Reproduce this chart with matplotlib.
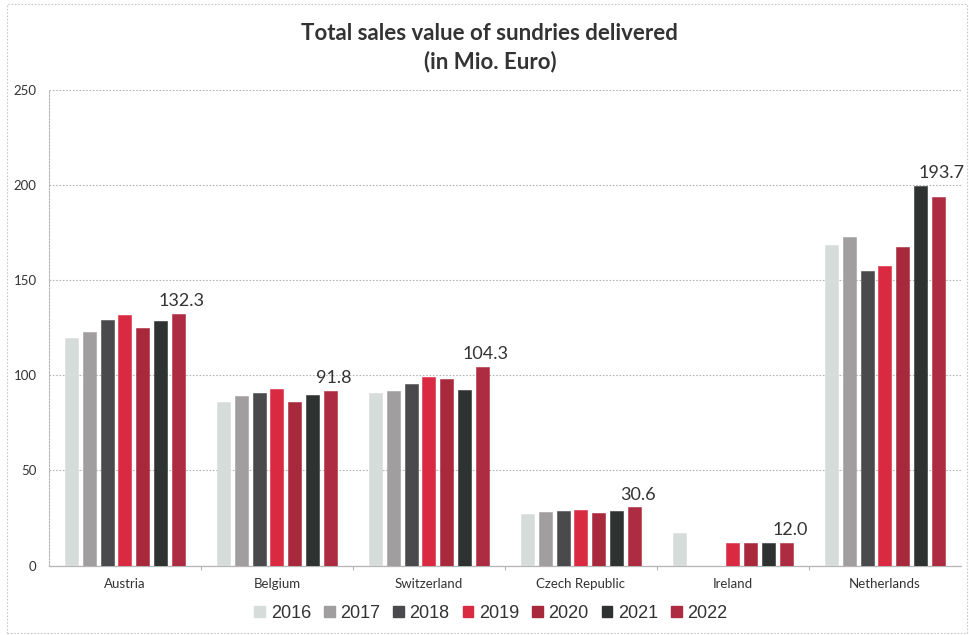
import numpy as np
import matplotlib
matplotlib.use("Agg")
import matplotlib.pyplot as plt
from matplotlib.patches import Rectangle, Patch

# Data (Mio. Euro)
countries = ["Austria", "Belgium", "Switzerland", "Czech Republic", "Ireland", "Netherlands"]
years = ["2016", "2017", "2018", "2019", "2020", "2021", "2022"]

v2016 = [119.7, 85.9, 90.7, 26.9, 16.9, 168.5]
v2017 = [122.9, 89.0, 91.9, 28.0, np.nan, 172.7]
v2018 = [128.8, 90.8, 95.2, 28.5, np.nan, 154.7]
v2019 = [131.6, 92.6, 98.9, 29.0, 12.0, 157.3]
v2020 = [125.0, 86.1, 98.2, 27.8, 12.0, 167.5]
v2021 = [128.5, 89.4, 92.4, 28.5, 12.0, 199.5]
v2022 = [132.3, 91.8, 104.3, 30.6, 12.0, 193.7]

series = [v2016, v2017, v2018, v2019, v2020, v2021, v2022]
colors = ["#d6dcda", "#a19e9f", "#4a4a4d", "#d92a42", "#a8283c", "#2e3231", "#ad2c41"]

TEXT = "#333333"
GRID = "#b5b5b5"

fig = plt.figure(figsize=(9.7, 6.35), dpi=100)
ax = fig.add_axes([0.0505, 0.1094, 0.9402, 0.7496])

x = np.arange(len(countries))
pitch = 0.1178
width = 0.0855
for i, (vals, col) in enumerate(zip(series, colors)):
    offs = (i - 3) * pitch
    ax.bar(x + offs, np.array(vals, dtype=float), width=width, color=col,
           edgecolor=col, linewidth=0.4, zorder=3, label=years[i])

# value labels for the latest year, lifted clear of a taller neighbouring bar
for xi, v, prev in zip(x, v2022, v2021):
    y = max(v, prev) + 2.5
    ax.text(xi + 3 * pitch + 0.02, y, f"{v:.1f}", ha="center", va="bottom",
            fontsize=13, color=TEXT, family="Lato", zorder=4)

ax.set_xlim(-0.5, len(countries) - 0.5)
ax.set_ylim(0, 250)
ax.set_yticks(np.arange(0, 251, 50))
ax.set_xticks(x)
ax.set_xticklabels(countries, family="Lato", fontsize=9.5, color=TEXT)
ax.set_xticks(np.arange(0.5, len(countries) - 1, 1), minor=True)
ax.tick_params(axis="x", which="major", length=0, pad=9)
ax.tick_params(axis="x", which="minor", length=3, color=GRID, width=0.8)
ax.tick_params(axis="y", length=0, pad=9, labelsize=9.5, labelcolor=TEXT)
for lab in ax.get_yticklabels():
    lab.set_family("Lato")

ax.yaxis.grid(True, linestyle=(0, (1.5, 1.5)), color=GRID, linewidth=0.8, zorder=0)
for s in ["top", "right"]:
    ax.spines[s].set_visible(False)
ax.spines["left"].set_linestyle((0, (1.5, 1.5)))
ax.spines["left"].set_color(GRID)
ax.spines["left"].set_linewidth(0.8)
ax.spines["bottom"].set_linestyle((0, (2, 1)))
ax.spines["bottom"].set_color(GRID)
ax.spines["bottom"].set_linewidth(0.9)

fig.text(0.505, 0.948, "Total sales value of sundries delivered", ha="center", va="center",
         fontsize=16, fontweight="bold", family="Lato", color=TEXT)
fig.text(0.505, 0.903, "(in Mio. Euro)", ha="center", va="center",
         fontsize=16, fontweight="bold", family="Lato", color=TEXT)

handles = [Patch(facecolor=c, edgecolor=c) for c in colors]
leg = fig.legend(handles, years, loc="center", bbox_to_anchor=(0.506, 0.034), ncol=7,
                 frameon=False, prop={"family": "Liberation Sans", "size": 13},
                 handlelength=0.6, handleheight=0.6, handletextpad=0.3,
                 columnspacing=0.72)
for t in leg.get_texts():
    t.set_color(TEXT)

# dotted frame around the chart
fig.patches.append(Rectangle((0.007, 0.003), 0.99, 0.99, transform=fig.transFigure,
                             fill=False, edgecolor="#c8c8c8", linewidth=0.8,
                             linestyle=(0, (1.5, 1.5))))

fig.savefig("out.png", dpi=100, facecolor="white")
